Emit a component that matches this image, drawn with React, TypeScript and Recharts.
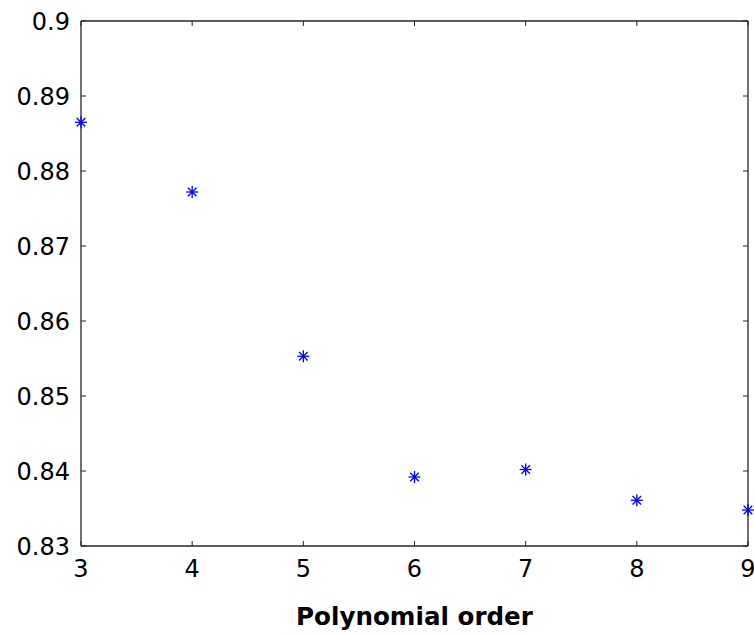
import React from 'react';
import { ScatterChart, Scatter, XAxis, YAxis, ReferenceLine } from 'recharts';

const orders = [3, 4, 5, 6, 7, 8, 9];
const values = [0.8865, 0.8772, 0.8553, 0.8392, 0.8402, 0.8361, 0.8348];
const xTicks = [3, 4, 5, 6, 7, 8, 9];
const yTicks = [0.83, 0.84, 0.85, 0.86, 0.87, 0.88, 0.89, 0.9];
const yTickLabels = ['0.83', '0.84', '0.85', '0.86', '0.87', '0.88', '0.89', '0.9'];
const xLabel = 'Polynomial order';

const data = orders.map((o, i) => ({ order: o, value: values[i] }));

const W = 754;
const H = 634;
const M = { top: 21, right: 6, left: 0, bottom: 0 };
const Y_AXIS_W = 81;
const X_AXIS_H = 88;
const PLOT_LEFT = M.left + Y_AXIS_W;
const PLOT_RIGHT = W - M.right;
const PLOT_TOP = M.top;
const PLOT_BOTTOM = H - M.bottom - X_AXIS_H;
const TICK_LEN = 5;
const AXIS_COLOR = '#262626';
const FONT = '"DejaVu Sans", sans-serif';

const YTick = (props: any) => {
  const { x, y, payload } = props;
  const idx = yTicks.indexOf(payload.value);
  const label = idx >= 0 ? yTickLabels[idx] : String(payload.value);
  return (
    <g>
      <line x1={PLOT_LEFT} x2={PLOT_LEFT + TICK_LEN} y1={y} y2={y} stroke={AXIS_COLOR} strokeWidth={1} />
      <line x1={PLOT_RIGHT - TICK_LEN} x2={PLOT_RIGHT} y1={y} y2={y} stroke={AXIS_COLOR} strokeWidth={1} />
      <text x={x} y={y} dy="0.36em" textAnchor="end" fontSize={24} fontFamily={FONT} fill="#000">
        {label}
      </text>
    </g>
  );
};

const XTick = (props: any) => {
  const { x, y, payload } = props;
  return (
    <g>
      <line x1={x} x2={x} y1={PLOT_BOTTOM} y2={PLOT_BOTTOM - TICK_LEN} stroke={AXIS_COLOR} strokeWidth={1} />
      <line x1={x} x2={x} y1={PLOT_TOP} y2={PLOT_TOP + TICK_LEN} stroke={AXIS_COLOR} strokeWidth={1} />
      <text x={x} y={y} textAnchor="middle" fontSize={24} fontFamily={FONT} fill="#000">
        {String(payload.value)}
      </text>
    </g>
  );
};

const Star = (props: any) => {
  const { cx, cy } = props;
  if (cx == null || cy == null) return null;
  const r = 6;
  const d = 4.3;
  const c = '#0000ff';
  return (
    <g stroke={c} strokeWidth={1.3}>
      <line x1={cx - r} x2={cx + r} y1={cy} y2={cy} />
      <line x1={cx} x2={cx} y1={cy - r} y2={cy + r} />
      <line x1={cx - d} x2={cx + d} y1={cy - d} y2={cy + d} />
      <line x1={cx - d} x2={cx + d} y1={cy + d} y2={cy - d} />
    </g>
  );
};

export default function App() {
  return (
    <div style={{ position: 'absolute', left: 0, top: 0, width: W, height: H, background: '#fff' }}>
      <ScatterChart width={W} height={H} margin={M}>
        <XAxis
          type="number"
          dataKey="order"
          domain={[3, 9]}
          ticks={xTicks}
          height={X_AXIS_H}
          tickSize={0}
          tickMargin={31}
          tickLine={false}
          axisLine={{ stroke: AXIS_COLOR, strokeWidth: 1.3 }}
          tick={<XTick />}
          interval={0}
          label={{
            value: xLabel,
            position: 'insideBottom',
            offset: 9,
            fontSize: 24.6,
            fontWeight: 'bold',
            fontFamily: FONT,
            fill: '#000',
          }}
        />
        <YAxis
          type="number"
          dataKey="value"
          domain={[0.83, 0.9]}
          ticks={yTicks}
          width={Y_AXIS_W}
          tickSize={0}
          tickMargin={11}
          tickLine={false}
          axisLine={{ stroke: AXIS_COLOR, strokeWidth: 1.3 }}
          tick={<YTick />}
          interval={0}
        />
        <ReferenceLine y={0.9} stroke={AXIS_COLOR} strokeWidth={1.3} ifOverflow="visible" />
        <ReferenceLine x={9} stroke={AXIS_COLOR} strokeWidth={1.3} ifOverflow="visible" />
        <Scatter data={data} shape={<Star />} isAnimationActive={false} />
      </ScatterChart>
    </div>
  );
}
